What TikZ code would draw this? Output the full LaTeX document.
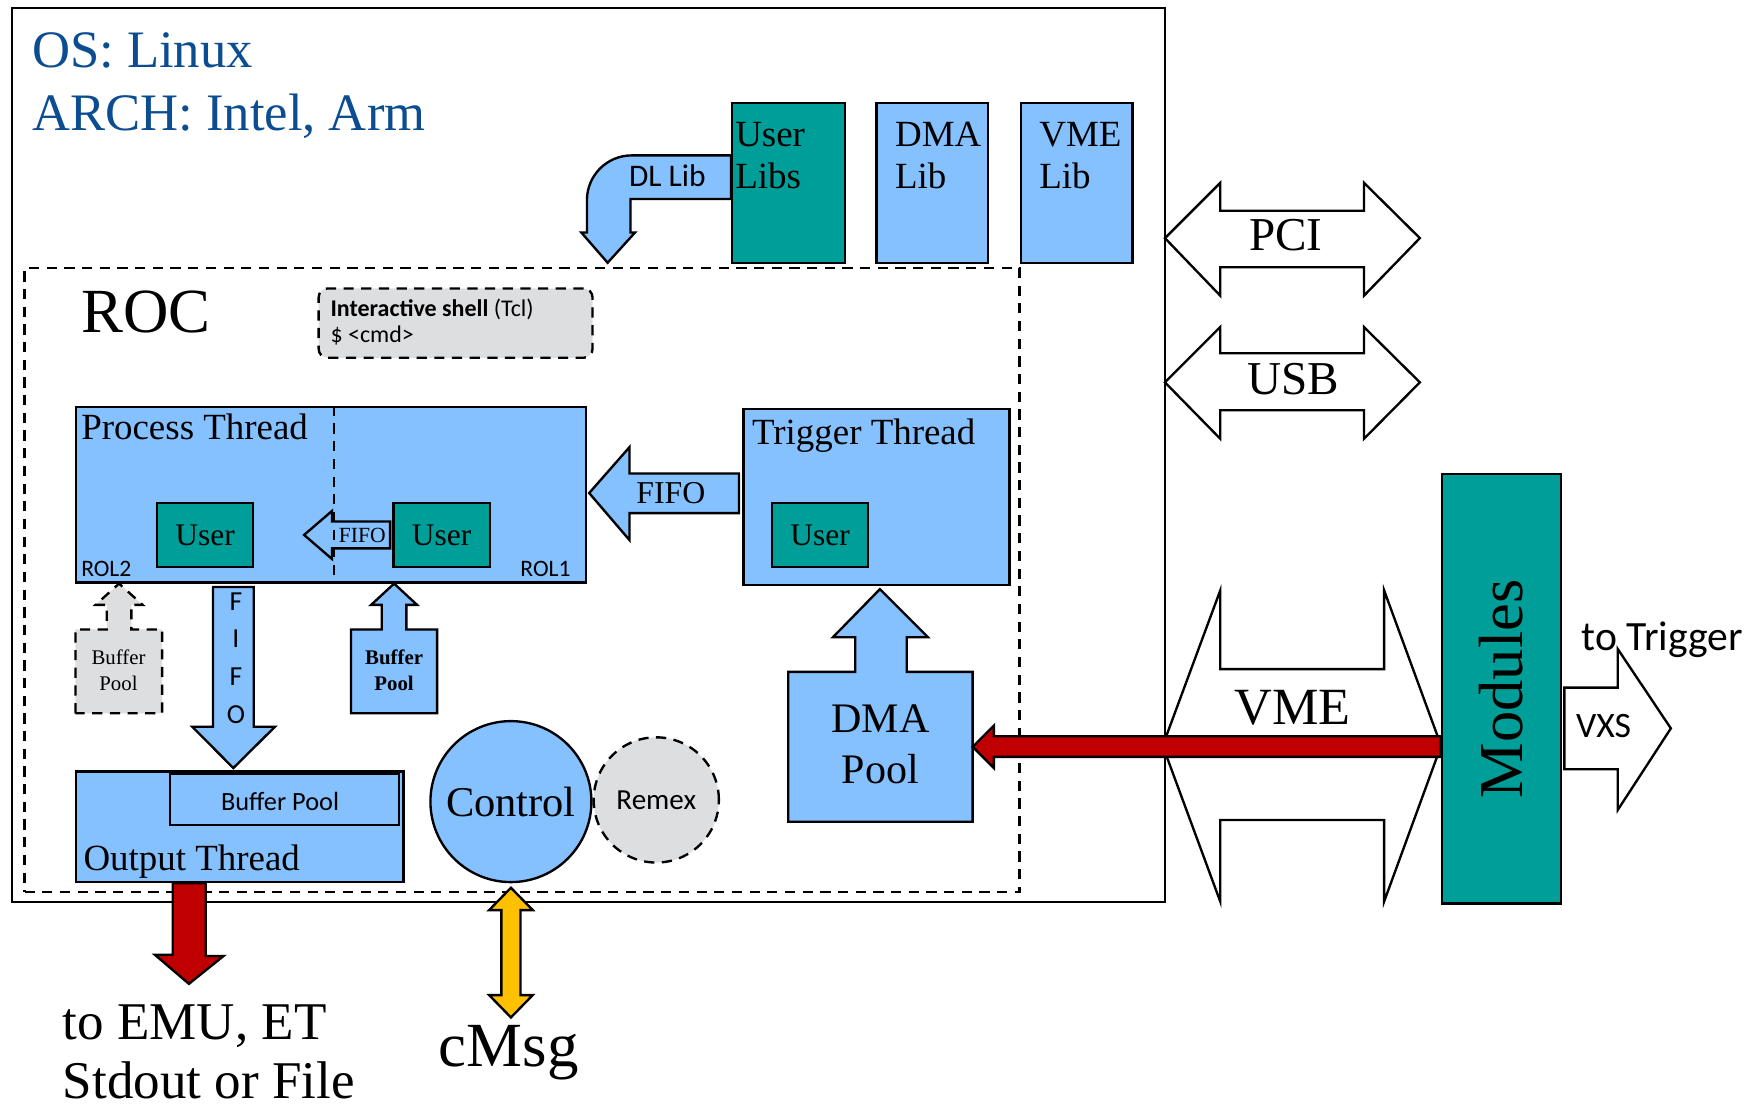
\documentclass[tikz,border=0pt]{standalone}
\usepackage{fontspec}
\setmainfont{Liberation Serif}
\newfontfamily\carlito{Carlito}
\usetikzlibrary{calc}
\usetikzlibrary{positioning}

\definecolor{ltblue}{RGB}{133,192,255}
\definecolor{usrteal}{RGB}{0,158,152}
\definecolor{shellgray}{RGB}{221,222,224}
\definecolor{osblue}{RGB}{12,77,145}
\definecolor{busred}{RGB}{192,0,0}
\definecolor{msgyellow}{RGB}{255,192,0}

\newcommand{\fsz}[1]{\fontsize{#1}{#1}\selectfont}

\tikzset{
  plainbox/.style={draw, line width=0.6pt, inner sep=0pt},
  bluebox/.style={plainbox, fill=ltblue},
  userbox/.style={plainbox, fill=usrteal, minimum width=0.86cm, minimum height=0.57cm, font=\fsz{8}},
  txt/.style={inner sep=0pt, anchor=base west},
  ctxt/.style={inner sep=0pt, anchor=base},
  blockarrow/.style={draw, line width=0.6pt, line join=miter},
  dashbox/.style={dash pattern=on 2.6pt off 1.9pt},
}

\begin{document}
\begin{tikzpicture}
					\useasboundingbox (0,0) rectangle (15.68,-9.90);

					% OS frame and ROC frame
					\node[plainbox, minimum width=10.31cm, minimum height=8.00cm] (os) at (5.265,-4.07) {};
					\node[plainbox, dashbox, minimum width=8.90cm, minimum height=5.58cm] (roc) at (4.67,-5.19) {};
					\node[txt, text=osblue, font=\fsz{13.4}] (ostxt) at (0.28,-0.60) {OS: Linux};
					\node[txt, text=osblue, font=\fsz{13.4}] (archtxt) at (0.28,-1.17) {ARCH: Intel, Arm};
					\node[txt, font=\fsz{16}] (roctxt) at (0.72,-2.97) {ROC};

					% Libraries
					\node[plainbox, fill=usrteal, minimum width=1.01cm, minimum height=1.43cm] (userlibs) at (7.055,-1.635) {};
					\node[bluebox, minimum width=1.00cm, minimum height=1.43cm] (dmalib) at (8.34,-1.635) {};
					\node[bluebox, minimum width=1.00cm, minimum height=1.43cm] (vmelib) at (9.63,-1.635) {};
					\node[txt, font=\fsz{9.4}] (userlibs1) at ($(userlibs.north west)+(0.03,-0.40)$) {User};
					\node[txt, font=\fsz{9.4}] (userlibs2) at ($(userlibs.north west)+(0.03,-0.775)$) {Libs};
					\node[txt, font=\fsz{9.4}] (dmalib1) at ($(dmalib.north west)+(0.17,-0.40)$) {DMA};
					\node[txt, font=\fsz{9.4}] (dmalib2) at ($(dmalib.north west)+(0.17,-0.775)$) {Lib};
					\node[txt, font=\fsz{9.4}] (vmelib1) at ($(vmelib.north west)+(0.17,-0.40)$) {VME};
					\node[txt, font=\fsz{9.4}] (vmelib2) at ($(vmelib.north west)+(0.17,-0.775)$) {Lib};

					% DL Lib bent arrow
					\draw[blockarrow, fill=ltblue] ($(userlibs.west)+(0,0.245)$) -- (5.65,-1.39) arc[start angle=90, end angle=180, radius=0.40]
						-- (5.25,-2.08) -- (5.20,-2.08) -- (5.435,-2.35) -- (5.68,-2.08) -- (5.64,-2.08) -- (5.64,-1.78) -- ($(userlibs.west)+(0,-0.145)$) -- cycle;
					\node[txt, font=\carlito\fsz{8}] (dllib) at (5.62,-1.665) {DL Lib};

					% Interactive shell
					\node[plainbox, dashbox, fill=shellgray, rounded corners=0.08cm, minimum width=2.45cm, minimum height=0.62cm] (shell) at (4.075,-2.89) {};
					\node[txt, font=\carlito\fsz{6.1}] (shell1) at (2.95,-2.835) {\textbf{Interactive shell} (Tcl)};
					\node[txt, font=\carlito\fsz{6.1}] (shell2) at (2.95,-3.06) {\$ <cmd>};

					% Process thread with its two readout lists
					\node[bluebox, minimum width=4.56cm, minimum height=1.57cm] (proc) at (2.96,-4.425) {};
					\node[userbox] (usera) at (1.835,-4.785) {User};
					\node[userbox] (userb) at (3.95,-4.785) {User};
					\draw[blockarrow, fill=ltblue] (2.72,-4.785) -- (2.97,-4.57) -- (2.97,-4.665) -- ($(userb.west)+(-0.02,0.12)$) -- ($(userb.west)+(-0.02,-0.12)$) -- (2.97,-4.905) -- (2.97,-5.00) -- cycle;
					\node[font=\fsz{5.5}, inner sep=0pt] (fifosmall) at (3.24,-4.785) {FIFO};
					\draw[dashbox, line width=0.6pt] ($(proc.north)+(0.03,0)$) -- ($(proc.south)+(0.03,0)$);
					\node[txt, font=\fsz{9.4}] (proctxt) at (0.72,-3.935) {Process Thread};
					\node[txt, font=\carlito\fsz{6}] (rol2) at (0.72,-5.16) {ROL2};
					\node[inner sep=0pt, anchor=base east, font=\carlito\fsz{6}] (rol1) at (5.11,-5.16) {ROL1};

					% Trigger thread
					\node[bluebox, minimum width=2.38cm, minimum height=1.57cm] (trig) at (7.84,-4.445) {};
					\node[userbox] (userc) at (7.335,-4.785) {User};
					\node[txt, font=\fsz{9.4}] (trigtxt) at (6.72,-3.975) {Trigger Thread};
					\draw[blockarrow, fill=ltblue] (5.27,-4.41) -- (5.63,-4.00) -- (5.63,-4.235) -- (6.61,-4.235) -- (6.61,-4.59) -- (5.63,-4.59) -- (5.63,-4.83) -- cycle;
					\node[font=\fsz{8.1}, inner sep=0pt] (fifobig) at (6.00,-4.41) {FIFO};

					% DMA pool feeding the trigger thread
					\draw[blockarrow, fill=ltblue] (7.05,-7.35) -- (7.05,-6.01) -- (7.65,-6.01) -- (7.65,-5.70) -- (7.45,-5.70) -- (7.87,-5.27)
						-- (8.30,-5.70) -- (8.11,-5.70) -- (8.11,-6.01) -- (8.70,-6.01) -- (8.70,-7.35) -- cycle;
					\coordinate (dmapool) at (8.70,-6.68);
					\node[ctxt, font=\fsz{10.7}] (dmapool1) at (7.875,-6.55) {DMA};
					\node[ctxt, font=\fsz{10.7}] (dmapool2) at (7.875,-7.01) {Pool};

					% Buffer pools
					\draw[blockarrow, fill=ltblue] (3.14,-6.38) -- (3.14,-5.63) -- (3.415,-5.63) -- (3.415,-5.41) -- (3.32,-5.41) -- (3.525,-5.22)
						-- (3.73,-5.41) -- (3.635,-5.41) -- (3.635,-5.63) -- (3.91,-5.63) -- (3.91,-6.38) -- cycle;
					\node[ctxt, font=\bfseries\fsz{5.3}] (bufb1) at (3.525,-5.94) {Buffer};
					\node[ctxt, font=\bfseries\fsz{5.3}] (bufb2) at (3.525,-6.18) {Pool};
					\draw[blockarrow, dashbox, fill=shellgray] (0.675,-6.38) -- (0.675,-5.63) -- (0.955,-5.63) -- (0.955,-5.41) -- (0.855,-5.41) -- (1.065,-5.22)
						-- (1.275,-5.41) -- (1.175,-5.41) -- (1.175,-5.63) -- (1.45,-5.63) -- (1.45,-6.38) -- cycle;
					\node[ctxt, font=\fsz{5.3}] (bufa1) at (1.06,-5.94) {Buffer};
					\node[ctxt, font=\fsz{5.3}] (bufa2) at (1.06,-6.18) {Pool};

					% FIFO down to the output thread
					\draw[blockarrow, fill=ltblue] (1.905,-5.25) -- (2.27,-5.25) -- (2.27,-6.50) -- (2.46,-6.50) -- (2.087,-6.87) -- (1.72,-6.50) -- (1.905,-6.50) -- cycle;
					\node[font=\carlito\fontsize{7}{9.6}\selectfont, inner sep=0pt, align=center] (fifovert) at (2.11,-5.885) {F\\I\\F\\O};

					% Output thread
					\node[bluebox, minimum width=2.93cm, minimum height=0.99cm] (outthr) at (2.145,-7.395) {};
					\node[bluebox, minimum width=2.05cm, minimum height=0.46cm] (outbuf) at (2.545,-7.15) {};
					\node[ctxt, font=\carlito\fsz{6.7}] (outbuftxt) at (2.505,-7.25) {Buffer Pool};
					\node[txt, font=\fsz{9.4}] (outtxt) at (0.74,-7.79) {Output Thread};
					\draw[blockarrow, fill=busred] ($(outthr.south)+(-0.60,0)$) -- ++(0.295,0) -- ++(0,-0.65) -- ++(0.16,0) -- (1.69,-8.80) -- (1.385,-8.54) -- (1.545,-8.54) -- cycle;
					\node[txt, font=\fsz{13.5}] (emu1) at (0.555,-9.30) {to EMU, ET};
					\node[txt, font=\fsz{13.5}] (emu2) at (0.555,-9.83) {Stdout or File};

					% Control and Remex
					\node[plainbox, circle, fill=ltblue, minimum size=1.44cm, font=\fsz{10.8}] (control) at (4.57,-7.17) {Control};
					\node[plainbox, dashbox, circle, fill=shellgray, minimum size=1.12cm, font=\carlito\fsz{7.4}] (remex) at (5.87,-7.155) {Remex};
					\draw[blockarrow, fill=msgyellow] ($(control.south)+(0,-0.04)$) -- ++(0.195,-0.20) -- ++(-0.11,0) -- ++(0,-0.76) -- ++(0.11,0) -- ++(-0.195,-0.20)
						-- ++(-0.195,0.20) -- ++(0.11,0) -- ++(0,0.76) -- ++(-0.11,0) -- cycle;
					\node[ctxt, font=\fsz{16}] (cmsg) at (4.55,-9.54) {cMsg};

					% Buses
					\draw[blockarrow, fill=white] (10.42,-2.13) -- (10.915,-1.635) -- (10.915,-1.885) -- (12.20,-1.885) -- (12.20,-1.635) -- (12.70,-2.13)
						-- (12.20,-2.645) -- (12.20,-2.39) -- (10.915,-2.39) -- (10.915,-2.645) -- cycle;
					\node[ctxt, font=\fsz{12}] (pci) at (11.50,-2.24) {PCI};
					\draw[blockarrow, fill=white] (10.42,-3.42) -- (10.915,-2.925) -- (10.915,-3.16) -- (12.20,-3.16) -- (12.20,-2.925) -- (12.70,-3.42)
						-- (12.20,-3.925) -- (12.20,-3.67) -- (10.915,-3.67) -- (10.915,-3.925) -- cycle;
					\node[ctxt, font=\fsz{12}] (usb) at (11.57,-3.53) {USB};
					\draw[blockarrow, fill=white] (10.40,-6.67) -- (10.915,-5.28) -- (10.915,-5.985) -- (12.38,-5.985) -- (12.38,-5.28) -- (12.89,-6.67)
						-- (12.38,-8.065) -- (12.38,-7.335) -- (10.915,-7.335) -- (10.915,-8.065) -- cycle;
					\node[ctxt, font=\fsz{13.3}] (vme) at (11.56,-6.476) {VME};

					% Modules and their links
					\node[plainbox, fill=usrteal, minimum width=1.065cm, minimum height=3.84cm] (modules) at (13.43,-6.16) {};
					\node[rotate=90, inner sep=0pt, font=\fsz{15.9}] (modtxt) at (modules.center) {Modules};
					\draw[blockarrow, fill=busred] (modules.west |- 0,-6.585) -- (8.89,-6.585) -- (8.89,-6.49) -- (dmapool) -- (8.89,-6.87) -- (8.89,-6.77) -- (modules.west |- 0,-6.77) -- cycle;
					\draw[blockarrow, fill=white] ($(modules.east |- 0,-6.15)+(0.02,0)$) -- (14.47,-6.15) -- (14.47,-5.805) -- (14.945,-6.515) -- (14.47,-7.245) -- (14.47,-6.88) -- ($(modules.east |- 0,-6.88)+(0.02,0)$) -- cycle;
					\node[txt, font=\carlito\fsz{9.1}] (vxs) at (14.09,-6.60) {VXS};
					\node[txt, font=\carlito\fsz{10.6}] (totrig) at (14.14,-5.815) {to Trigger};
				\end{tikzpicture}
\end{document}
